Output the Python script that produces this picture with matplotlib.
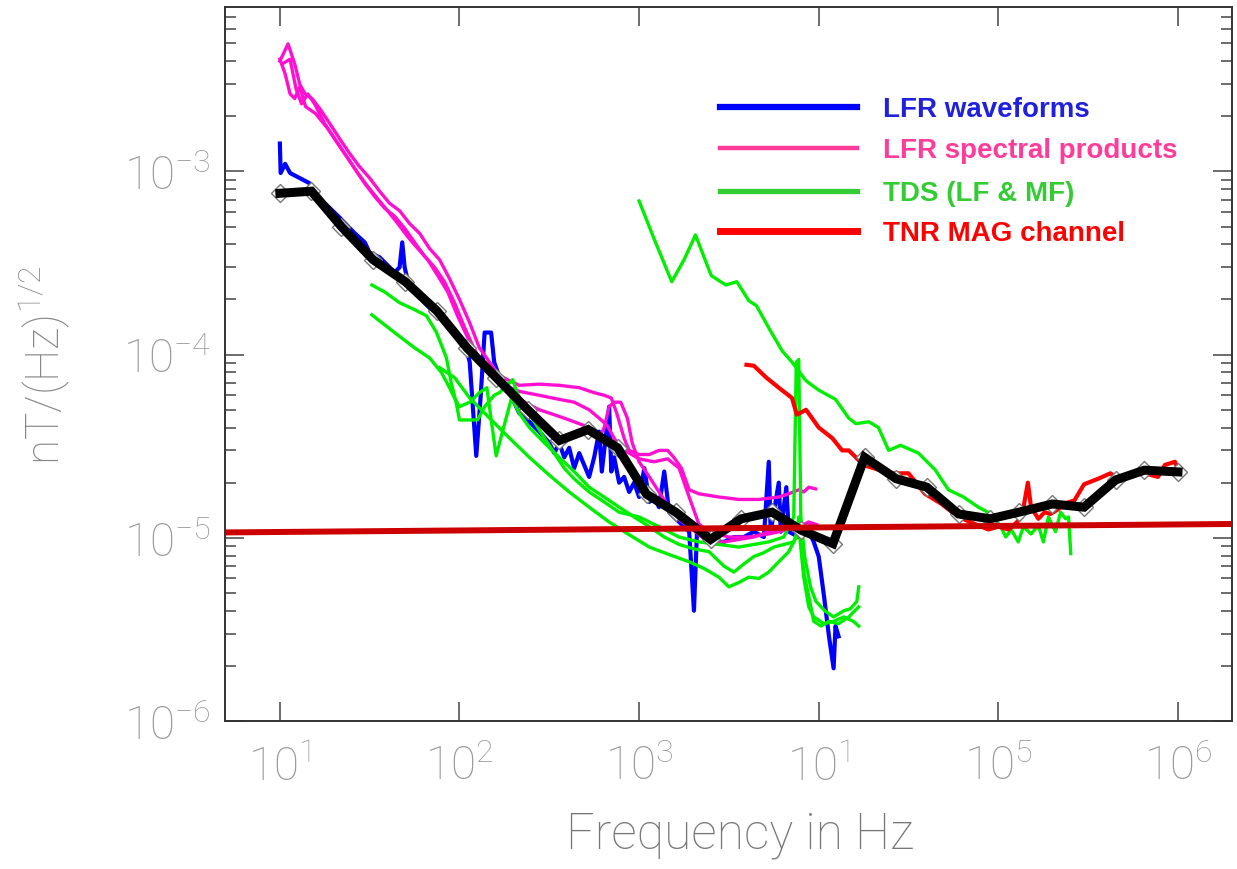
import matplotlib
matplotlib.use("Agg")
from matplotlib import pyplot as plt
from matplotlib.ticker import LogLocator, NullFormatter

plt.rcParams["font.family"] = ["Roboto", "DejaVu Sans"]

# ---- data (Hz, nT/Hz^1/2) ----
lfr_wf_f = [10, 10.1, 10.7, 11.4, 12.9, 14.7, 15.6, 17.8, 19.0, 21.5, 24.5, 26.1, 29.7, 31.6,
            35.9, 40.8, 43.5, 46.4, 48, 49.5, 52.7, 56.2, 63.9, 72.6, 82.5, 93.8, 107, 114,
            124, 131, 138, 150, 156, 167, 190, 215, 245, 278, 316, 337, 359, 383, 408, 435,
            464, 527, 562, 599, 620, 681, 700, 726, 774, 825, 880, 938, 1000, 1070, 1140,
            1210, 1290, 1380, 1470, 1560, 1670, 1780, 1900, 2020, 2100, 2300, 2610, 2970,
            3370, 3830, 4350, 4950, 5270, 5400, 5990, 6150, 6600, 6810, 7740, 8800, 9380,
            10000, 10700, 11400, 12100, 12400, 12900]
lfr_wf_v = [1.42e-3, 9.8e-4, 1.10e-3, 9.8e-4, 9.2e-4, 8.6e-4, 7.1e-4, 6.7e-4, 6.3e-4, 5.6e-4,
            4.9e-4, 4.6e-4, 4.1e-4, 3.6e-4, 3.4e-4, 3.0e-4, 2.8e-4, 3.0e-4, 4.1e-4, 3.0e-4,
            2.3e-4, 2.2e-4, 1.92e-4, 1.69e-4, 1.49e-4, 1.32e-4, 1.16e-4, 9.1e-5, 2.8e-5,
            5.8e-5, 1.32e-4, 1.32e-4, 9.1e-5, 7.5e-5, 6.2e-5, 4.8e-5, 4.3e-5, 3.8e-5, 3.3e-5,
            2.9e-5, 3.3e-5, 2.75e-5, 3.1e-5, 2.4e-5, 2.9e-5, 2.15e-5, 2.75e-5, 3.8e-5, 2.3e-5,
            5.2e-5, 2.3e-5, 2.75e-5, 2.0e-5, 2.15e-5, 1.78e-5, 2.0e-5, 1.67e-5, 2.4e-5,
            1.57e-5, 1.67e-5, 1.47e-5, 2.3e-5, 1.38e-5, 1.30e-5, 1.22e-5, 1.15e-5, 1.08e-5,
            4.0e-6, 1.08e-5, 1.01e-5, 9.5e-6, 9.5e-6, 1.01e-5, 1.01e-5, 1.08e-5, 1.01e-5,
            2.6e-5, 1.08e-5, 2.0e-5, 1.08e-5, 1.89e-5, 1.08e-5, 1.01e-5, 1.08e-5, 9.5e-6,
            7.9e-6, 4.8e-6, 2.9e-6, 1.94e-6, 3.3e-6, 2.9e-6]

lfr_sp_a_f = [10, 11.1, 12.1, 12.9, 13.8, 15.1, 16.7, 19.0, 21.5, 24.5, 27.8, 31.6, 35.9, 40.8,
              46.4, 52.7, 59.9, 68.1, 77.4, 88.0, 100, 114, 129, 147, 167, 190, 215, 278, 359,
              464, 562, 639, 700, 750, 825, 880, 1000, 1140, 1290, 1440, 1560, 1720, 1900,
              2150, 2780, 3590, 4640, 5990, 6810, 7740, 8250, 8800, 9600]
lfr_sp_a_v = [4.0e-3, 4.97e-3, 3.86e-3, 3.0e-3, 2.65e-3, 2.5e-3, 2.2e-3, 1.82e-3, 1.51e-3,
              1.25e-3, 1.06e-3, 9.2e-4, 7.8e-4, 6.7e-4, 6.1e-4, 5.2e-4, 4.6e-4, 3.8e-4, 3.3e-4,
              2.6e-4, 2.0e-4, 1.49e-4, 1.09e-4, 9.1e-5, 7.7e-5, 7.2e-5, 6.8e-5, 6.9e-5, 6.8e-5,
              6.6e-5, 6.2e-5, 6.0e-5, 5.8e-5, 4.8e-5, 3.5e-5, 3.0e-5, 2.85e-5, 2.85e-5, 3.0e-5,
              3.0e-5, 2.75e-5, 2.4e-5, 1.83e-5, 1.74e-5, 1.67e-5, 1.62e-5, 1.62e-5, 1.67e-5,
              1.74e-5, 1.83e-5, 1.78e-5, 1.89e-5, 1.85e-5]

lfr_sp_b_f = [10.3, 11.4, 12.3, 13.2, 14.3, 15.6, 17.8, 20.2, 23.0, 26.1, 29.7, 33.7, 38.3,
              43.5, 49.5, 56.2, 63.9, 72.6, 82.5, 93.8, 107, 121, 138, 156, 178, 215, 278, 359,
              435, 527, 599, 665, 726, 790, 880, 1000, 1210, 1440, 1670, 1900, 2150, 2450,
              3160, 4080, 5270, 6810, 8250, 9380, 10000]
lfr_sp_b_v = [3.86e-3, 4.1e-3, 2.83e-3, 2.34e-3, 2.65e-3, 2.34e-3, 1.82e-3, 1.51e-3, 1.25e-3,
              1.04e-3, 8.6e-4, 7.3e-4, 6.3e-4, 5.7e-4, 4.9e-4, 4.1e-4, 3.45e-4, 3.0e-4, 2.5e-4,
              1.92e-4, 1.40e-4, 1.07e-4, 8.3e-5, 7.3e-5, 6.8e-5, 6.3e-5, 6.0e-5, 5.7e-5, 5.5e-5,
              5.0e-5, 4.5e-5, 4.1e-5, 3.5e-5, 3.1e-5, 2.9e-5, 2.7e-5, 2.6e-5, 2.7e-5, 2.4e-5,
              1.67e-5, 1.19e-5, 1.08e-5, 1.01e-5, 1.01e-5, 1.05e-5, 1.11e-5, 1.15e-5, 1.18e-5,
              1.15e-5]

lfr_sp_c_f = [10, 10.7, 11.4, 12.1, 12.9, 13.9, 15.8, 18.5, 21.0, 23.9, 27.1, 30.8, 35.0, 39.8,
              45.3, 51.5, 58.5, 66.5, 75.7, 86, 97.5, 111, 126, 143, 163, 190, 230, 278, 337,
              408, 495, 562, 599, 639, 681, 726, 790, 860, 915, 1000, 1140, 1290, 1470, 1670,
              1900, 2150, 2450, 2970, 3590, 4350, 5270, 6390, 7740, 8800, 9750]
lfr_sp_c_v = [4.1e-3, 3.41e-3, 2.65e-3, 2.5e-3, 2.9e-3, 2.26e-3, 2.07e-3, 1.71e-3, 1.42e-3,
              1.18e-3, 9.8e-4, 8.3e-4, 7.1e-4, 6.1e-4, 5.2e-4, 4.4e-4, 3.8e-4, 3.3e-4, 2.7e-4,
              2.2e-4, 1.63e-4, 1.24e-4, 9.6e-5, 8.3e-5, 7.0e-5, 6.2e-5, 5.5e-5, 5.0e-5, 4.7e-5,
              4.4e-5, 4.1e-5, 3.9e-5, 3.5e-5, 4.0e-5, 5.2e-5, 5.5e-5, 5.5e-5, 4.5e-5, 3.3e-5,
              2.6e-5, 2.15e-5, 1.78e-5, 1.47e-5, 1.26e-5, 1.15e-5, 1.04e-5, 9.5e-6, 9.5e-6,
              9.8e-6, 1.01e-5, 1.08e-5, 1.15e-5, 1.15e-5, 1.22e-5, 1.18e-5]

tds_a_f = [32.5, 38.3, 46.4, 56.2, 65.5, 74.5, 84.6, 90, 95.7, 100, 114, 126, 138, 156, 167,
           184, 198, 209, 230, 261, 297, 337, 383, 435, 527, 639, 774, 1000, 1290, 1670, 2150,
           2780, 3590, 4350, 5270, 6390, 7260, 7500, 7740, 7950, 8350, 9000, 9650, 10800,
           12100, 13800, 15000, 16300, 16700]
tds_a_v = [2.4e-4, 2.2e-4, 1.92e-4, 1.76e-4, 1.63e-4, 1.32e-4, 9.6e-5, 7.0e-5, 5.5e-5, 4.4e-5,
           4.4e-5, 4.4e-5, 5.2e-5, 6.0e-5, 6.2e-5, 6.8e-5, 7.3e-5, 6.2e-5, 5.2e-5, 4.3e-5,
           3.5e-5, 2.9e-5, 2.4e-5, 2.1e-5, 1.78e-5, 1.57e-5, 1.38e-5, 1.30e-5, 1.15e-5,
           1.01e-5, 9.5e-6, 9.2e-6, 8.9e-6, 9.2e-6, 9.5e-6, 1.01e-5, 1.30e-5, 9.1e-5, 9.4e-5,
           1.30e-5, 7.9e-6, 5.4e-6, 4.5e-6, 4.0e-6, 3.7e-6, 4.0e-6, 4.1e-6, 4.5e-6, 5.4e-6]

tds_b_f = [32.5, 43.5, 56.2, 68.1, 79.3, 88.0, 93.8, 100, 114, 129, 142, 160, 176, 195, 215,
           245, 297, 359, 435, 527, 639, 774, 938, 1140, 1380, 1670, 2020, 2450, 2970, 3370,
           3830, 4350, 4950, 5620, 6390, 7260, 7740, 8250, 8800, 9380, 10700, 12100, 13800,
           15600, 16700]
tds_b_v = [1.65e-4, 1.32e-4, 1.09e-4, 9.6e-5, 8.0e-5, 6.6e-5, 5.8e-5, 5.2e-5, 5.5e-5, 6.2e-5,
           6.6e-5, 2.8e-5, 4.0e-5, 5.8e-5, 4.8e-5, 4.0e-5, 3.3e-5, 2.75e-5, 2.3e-5, 1.89e-5,
           1.67e-5, 1.47e-5, 1.30e-5, 1.15e-5, 1.01e-5, 9.2e-6, 8.7e-6, 8.4e-6, 7.0e-6, 6.5e-6,
           7.2e-6, 7.9e-6, 8.3e-6, 8.9e-6, 9.2e-6, 9.5e-6, 1.15e-5, 6.1e-6, 4.2e-6, 3.7e-6,
           3.4e-6, 3.5e-6, 3.7e-6, 3.5e-6, 3.3e-6]

tds_c_f = [77.4, 93.8, 114, 147, 190, 245, 316, 408, 527, 681, 880, 1140, 1470, 1900, 2300,
           2780, 3160, 3590, 4080, 4640, 5270, 5990, 6810, 7500, 7740, 8250, 8800, 9380, 10300,
           11400, 12900, 14700, 16700]
tds_c_v = [8.5e-5, 7.5e-5, 5.8e-5, 4.5e-5, 3.5e-5, 2.75e-5, 2.2e-5, 1.78e-5, 1.47e-5, 1.22e-5,
           1.04e-5, 8.9e-6, 8.1e-6, 7.4e-6, 6.8e-6, 6.1e-6, 5.4e-6, 5.7e-6, 6.1e-6, 6.0e-6,
           6.5e-6, 7.4e-6, 8.4e-6, 1.01e-5, 1.30e-5, 6.5e-6, 4.8e-6, 3.5e-6, 3.3e-6, 3.5e-6,
           3.4e-6, 3.7e-6, 4.2e-6]

tds_mf_f = [1000, 1210, 1520, 1780, 2060, 2520, 3040, 3500, 4080, 4500, 5270, 6250, 7100, 8500,
            10000, 12400, 14700, 16100, 19000, 21500, 24500, 28500, 35900, 44500, 52700, 64000,
            77400, 91000, 103000, 110000, 118000, 129000, 138000, 152000, 167000, 178000,
            190000, 208000, 222000, 237000, 246000, 253000]
tds_mf_v = [6.9e-4, 4.3e-4, 2.5e-4, 3.3e-4, 4.5e-4, 2.7e-4, 2.4e-4, 2.5e-4, 1.97e-4, 1.85e-4,
            1.40e-4, 1.05e-4, 9.1e-5, 7.2e-5, 6.4e-5, 5.7e-5, 4.5e-5, 4.2e-5, 4.3e-5, 4.0e-5,
            3.0e-5, 3.2e-5, 2.9e-5, 2.35e-5, 1.83e-5, 1.67e-5, 1.47e-5, 1.35e-5, 1.15e-5,
            1.01e-5, 1.11e-5, 9.5e-6, 1.15e-5, 1.05e-5, 1.17e-5, 9.5e-6, 1.30e-5, 1.08e-5,
            1.38e-5, 1.27e-5, 1.30e-5, 8.2e-6]

tnr_f = [3960, 4350, 5100, 5990, 7100, 7550, 8500, 10000, 11900, 13500, 14700, 16100, 17600,
         20200, 24500, 31600, 39000, 47800, 59900, 74000, 88000, 100000, 114000, 124000,
         135000, 146000, 152000, 167000, 181000, 195000, 215000, 234000, 265000, 300000,
         359000, 421000, 464000, 527000, 599000, 651000, 774000, 846000, 962000, 1000000]
tnr_v = [8.8e-5, 8.7e-5, 7.5e-5, 6.6e-5, 5.8e-5, 4.7e-5, 5.0e-5, 4.0e-5, 3.5e-5, 3.0e-5,
         3.0e-5, 2.75e-5, 2.5e-5, 2.4e-5, 2.25e-5, 2.25e-5, 1.74e-5, 1.54e-5, 1.30e-5,
         1.19e-5, 1.11e-5, 1.15e-5, 1.11e-5, 1.19e-5, 1.30e-5, 2.0e-5, 1.47e-5, 1.27e-5,
         1.38e-5, 1.35e-5, 1.43e-5, 1.54e-5, 1.60e-5, 1.96e-5, 2.1e-5, 2.25e-5, 2.1e-5,
         2.15e-5, 2.35e-5, 2.25e-5, 2.15e-5, 2.5e-5, 2.6e-5, 2.35e-5]

# combined sensitivity curve (black with diamonds)
best_f = [10, 15, 22, 33, 50, 75, 110, 160, 240, 360, 520, 760, 1100, 1600, 2500, 3700, 5500,
          8000, 12000, 18000, 27000, 40000, 60000, 90000, 130000, 200000, 300000, 450000,
          650000, 1000000]
best_v = [7.6e-4, 7.8e-4, 5.0e-4, 3.3e-4, 2.5e-4, 1.73e-4, 1.09e-4, 7.5e-5, 5.0e-5, 3.4e-5,
          3.9e-5, 3.1e-5, 1.73e-5, 1.38e-5, 9.8e-6, 1.27e-5, 1.38e-5, 1.10e-5, 9.3e-6, 2.75e-5,
          2.1e-5, 1.89e-5, 1.35e-5, 1.27e-5, 1.38e-5, 1.53e-5, 1.47e-5, 2.07e-5, 2.34e-5,
          2.29e-5]

# requirement line
req_f = [4.9, 2.0e6]
req_v = [1.07e-5, 1.19e-5]

legend_labels = ["LFR waveforms", "LFR spectral products", "TDS (LF & MF)", "TNR MAG channel"]
legend_colors = ["#0000ff", "#ff3c9a", "#33cc33", "#ff0000"]
legend_text_colors = ["#2020dd", "#ff3c9a", "#33cc33", "#ff0000"]
legend_widths = [4.5, 3.2, 3.8, 5.0]

x_ticks = [10, 100, 1e3, 1e4, 1e5, 1e6]
x_tick_labels = ["10^{1}", "10^{2}", "10^{3}", "10^{1}", "10^{5}", "10^{6}"]
y_ticks = [1e-6, 1e-5, 1e-4, 1e-3]
y_tick_labels = ["10^{-6}", "10^{-5}", "10^{-4}", "10^{-3}"]

fig = plt.figure(figsize=(12.37, 8.70), dpi=100)
ax = fig.add_axes([0.1819, 0.1701, 0.8141, 0.8207])
ax.set_xscale("log")
ax.set_yscale("log")
ax.set_xlim(4.95, 2.0e6)
ax.set_ylim(1e-6, 7.9e-3)

pink = "#ff10d0"
green = "#00ee00"
ax.plot(lfr_wf_f, lfr_wf_v, color="#0000ff", lw=3.0, zorder=2)
for f, v in [(lfr_sp_a_f, lfr_sp_a_v), (lfr_sp_b_f, lfr_sp_b_v), (lfr_sp_c_f, lfr_sp_c_v)]:
    ax.plot(f, v, color=pink, lw=2.4, zorder=3)
for f, v in [(tds_a_f, tds_a_v), (tds_b_f, tds_b_v), (tds_c_f, tds_c_v), (tds_mf_f, tds_mf_v)]:
    ax.plot(f, v, color=green, lw=2.4, zorder=4)
ax.plot(tnr_f, tnr_v, color="#ff0000", lw=3.0, zorder=4)

ax.plot(best_f, best_v, ls="none", marker="D", ms=9, mfc="white", mec="#777777", mew=1.0,
        zorder=5)
ax.plot(best_f, best_v, color="black", lw=6.5, solid_joinstyle="miter", zorder=6)
ax.plot(req_f, req_v, color="#cc0000", lw=4.3, zorder=7)

# legend drawn by hand, as in the original
rows_y = [0.860, 0.8025, 0.742, 0.686]
for y, lab, c, tc, w in zip(rows_y, legend_labels, legend_colors, legend_text_colors,
                            legend_widths):
    ax.plot([0.4916, 0.6276], [y, y], transform=ax.transAxes, color=c, lw=w, zorder=8)
    ax.text(0.6534, y - 0.012, lab, transform=ax.transAxes, color=tc, fontsize=20,
            fontweight="bold", family=["Liberation Sans", "DejaVu Sans"], va="baseline",
            ha="left", zorder=8)

ax.set_xticks(x_ticks)
ax.set_xticklabels([r"$\mathregular{%s}$" % s for s in x_tick_labels])
ax.xaxis.set_minor_locator(LogLocator(base=10, subs=[]))
ax.set_yticks(y_ticks)
ax.set_yticklabels([r"$\mathregular{%s}$" % s for s in y_tick_labels])
ax.yaxis.set_minor_locator(LogLocator(base=10, subs=[2, 3, 4, 5, 6, 7, 8, 9]))
ax.yaxis.set_minor_formatter(NullFormatter())

ax.tick_params(which="both", direction="in", top=True, right=True, colors="#444444",
               labelcolor="#999999", width=1.1)
ax.tick_params(which="major", length=14, labelsize=33)
ax.tick_params(which="minor", length=8)
ax.tick_params(axis="y", pad=10)
ax.tick_params(axis="x", pad=16)
for lab in ax.get_xticklabels() + ax.get_yticklabels():
    lab.set_fontweight("light")
for sp in ax.spines.values():
    sp.set_color("#333333")
    sp.set_linewidth(1.4)

fig.text(0.036, 0.58, r"nT/(Hz)$\mathregular{^{1/2}}$", rotation=90, color="#888888",
         fontsize=33, fontweight="light", ha="center", va="center")
fig.text(0.598, 0.040, "Frequency in Hz", color="#777777", fontsize=36, fontweight="light",
         ha="center", va="center")

fig.savefig("out.png", dpi=100)
